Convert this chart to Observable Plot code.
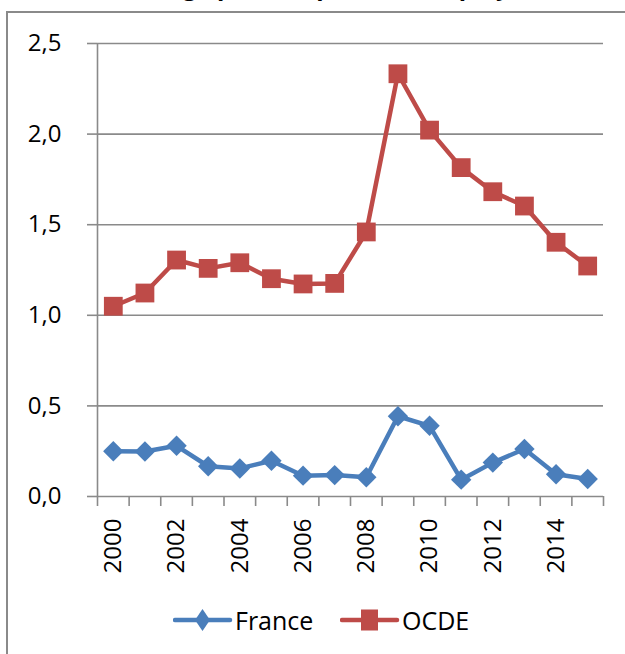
<!DOCTYPE html>
<html>
<head>
<meta charset="utf-8">
<script src="https://cdn.jsdelivr.net/npm/d3@7"></script>
<script src="https://cdn.jsdelivr.net/npm/@observablehq/plot@0.6"></script>
<style>
  html, body { margin: 0; padding: 0; background: #fff; }
  body { width: 625px; height: 654px; position: relative; overflow: hidden; font-family: "Open Sans", sans-serif; }
  #frame { position: absolute; left: 6px; top: 11px; width: 640px; height: 660px; border-left: 2px solid #8a8a8a; border-top: 2px solid #8a8a8a; box-sizing: border-box; }
  #title { position: absolute; right: 45px; top: -26px; font-size: 24px; line-height: 24px; font-weight: bold; white-space: nowrap; color: #000; }
  #chart { position: absolute; left: 0; top: 0; }
  #legend { position: absolute; left: 0; top: 603px; width: 625px; height: 34px; font-size: 25px; color: #000; }
  #legend .item { position: absolute; top: 0; display: flex; align-items: center; height: 34px; }
  #legend svg { display: block; }
</style>
</head>
<body>
<div id="frame"></div>
<div id="title">Chômage partiel : part des employés (%)</div>
<div id="chart"></div>
<div id="legend"></div>
<script>
const years = [2000, 2001, 2002, 2003, 2004, 2005, 2006, 2007, 2008, 2009, 2010, 2011, 2012, 2013, 2014, 2015];
const france = [0.25, 0.248, 0.28, 0.167, 0.155, 0.197, 0.115, 0.118, 0.106, 0.443, 0.39, 0.093, 0.187, 0.262, 0.123, 0.097];
const ocde = [1.05, 1.123, 1.305, 1.259, 1.29, 1.202, 1.173, 1.176, 1.46, 2.333, 2.022, 1.815, 1.682, 1.603, 1.403, 1.272];
const yTicks = [0, 0.5, 1.0, 1.5, 2.0, 2.5];
const xLabels = [2000, 2002, 2004, 2006, 2008, 2010, 2012, 2014];
const seriesNames = ["France", "OCDE"];
const seriesColors = ["#4A7EBB", "#BE4B48"];

const fmt = d => d.toFixed(1).replace(".", ",");
const rows = [];
years.forEach((yr, i) => {
  rows.push({year: yr, value: france[i], series: seriesNames[0]});
  rows.push({year: yr, value: ocde[i], series: seriesNames[1]});
});
const bounds = years.map(y => y - 0.5).concat([years[years.length - 1] + 0.5]);
const gray = "#8a8a8a";

const chart = Plot.plot({
  width: 625,
  height: 590,
  marginTop: 43,
  marginBottom: 94,
  marginLeft: 97,
  marginRight: 22,
  style: {fontFamily: "'Open Sans', sans-serif", fontSize: "24px", color: "#000", background: "transparent"},
  x: {type: "linear", domain: [bounds[0], bounds[bounds.length - 1]]},
  y: {domain: [0, 2.5]},
  color: {domain: seriesNames, range: seriesColors},
  marks: [
    Plot.ruleY(yTicks, {stroke: gray, strokeWidth: 1.6}),
    Plot.axisY({ticks: yTicks, tickSize: 10, tickPadding: 26, tickFormat: fmt, stroke: gray, strokeWidth: 1.6, fill: "#000", label: null}),
    Plot.axisX({ticks: bounds, tickSize: 10, tickFormat: () => "", stroke: gray, strokeWidth: 1.6, label: null}),
    Plot.ruleX([bounds[0]], {y1: 0, y2: 2.5, stroke: gray, strokeWidth: 1.6}),
    Plot.text(xLabels, {x: d => d, y: () => 0, text: d => String(d), rotate: -90, textAnchor: "end", dy: 22, fontSize: 24, fill: "#000"}),
    Plot.line(rows, {x: "year", y: "value", z: "series", stroke: "series", strokeWidth: 4.5, strokeLinejoin: "round"}),
    Plot.dot(rows.filter(d => d.series === "France"), {x: "year", y: "value", symbol: "diamond2", r: 9.2, fill: seriesColors[0], stroke: seriesColors[0], strokeWidth: 0}),
    Plot.dot(rows.filter(d => d.series === "OCDE"), {x: "year", y: "value", symbol: "square", r: 10.6, fill: seriesColors[1], stroke: seriesColors[1], strokeWidth: 0})
  ]
});
document.getElementById("chart").appendChild(chart);

// Legend
const legend = d3.select("#legend");
const itemLeft = [173, 340];
seriesNames.forEach((name, i) => {
  const item = legend.append("div").attr("class", "item").style("left", itemLeft[i] + "px");
  const sw = item.append("svg").attr("width", 60).attr("height", 34);
  sw.append("line").attr("x1", 2).attr("x2", 57).attr("y1", 17).attr("y2", 17)
    .attr("stroke", seriesColors[i]).attr("stroke-width", 4.5).attr("stroke-linecap", "round");
  if (i === 0) {
    sw.append("path").attr("d", "M29.5,6 L37,17 L29.5,28 L22,17 Z").attr("fill", seriesColors[i]);
  } else {
    sw.append("rect").attr("x", 21).attr("y", 6.5).attr("width", 17).attr("height", 21).attr("fill", seriesColors[i]);
  }
  item.append("span").text(name).style("margin-left", "2px");
});
</script>
</body>
</html>
